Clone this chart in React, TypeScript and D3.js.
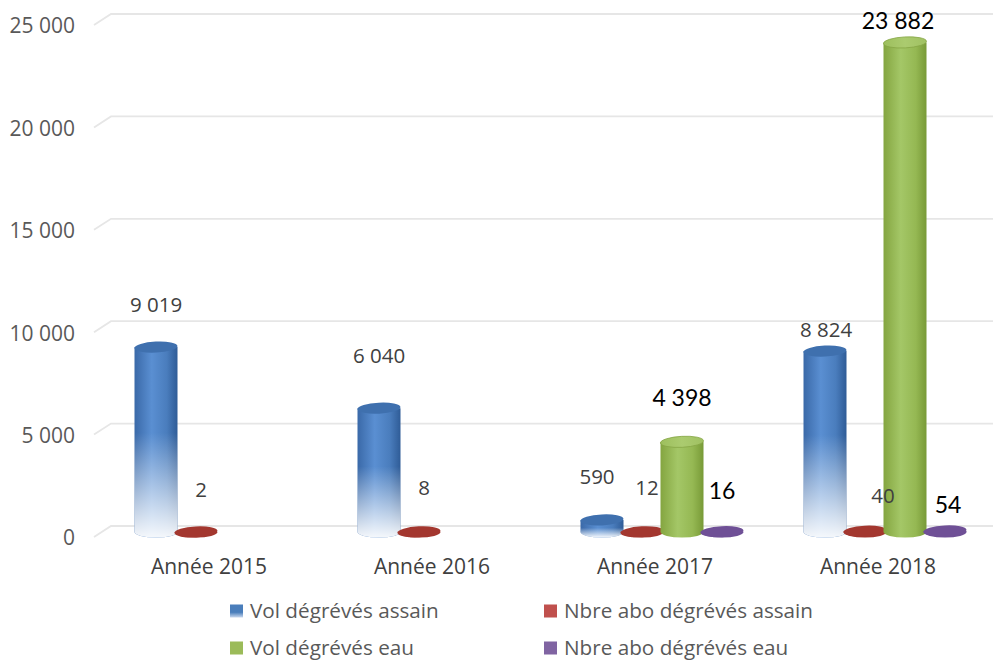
import React from "react";
import * as d3 from "d3";

const categories = ["Année 2015", "Année 2016", "Année 2017", "Année 2018"];
const seriesNames = [
  "Vol dégrévés assain",
  "Nbre abo dégrévés assain",
  "Vol dégrévés eau",
  "Nbre abo dégrévés eau",
];
const volAssain: (number | null)[] = [9019, 6040, 590, 8824];
const nbreAssain: (number | null)[] = [2, 8, 12, 40];
const volEau: (number | null)[] = [null, null, 4398, 23882];
const nbreEau: (number | null)[] = [null, null, 16, 54];
const yTicks = [0, 5000, 10000, 15000, 20000, 25000];

// label nudges (layout only): [dx, lift above top]
const labelNudge: [number, number][][] = [
  [[0, 42], [0, 52], [-5, 43], [1, 21]],
  [[5, 42], [5, 44], [5, 44], [18, 35]],
  [[0, 0], [0, 0], [0, 44], [-7, 21]],
  [[0, 0], [0, 0], [0, 41], [3, 26]],
];

const W = 995;
const H = 660;
const fmt = (v: number) => d3.format(",")(v).replace(/,/g, " ");

export default function App() {
  const seriesValues = [volAssain, nbreAssain, volEau, nbreEau];
  const x0 = d3.scaleBand<string>().domain(categories).range([97.5, 989.5]);
  const x1 = d3.scaleBand<string>().domain(seriesNames).range([-73, 87]);
  const yBack = d3.scaleLinear().domain([0, 25000]).range([526, 14]);
  const yFront = d3.scaleLinear().domain([0, 25000]).range([532, 19.5]);
  const rx = 21.5;
  const ry = 5.5;

  const fills = ["url(#gBlue)", "#a3372f", "url(#gGreen)", "#6f5096"];
  const tops = ["#3f70ae", "#a3372f", "url(#gGreenTop)", "#6f5096"];
  const labelStyle = [
    { fill: "#404040", size: 20.5, family: "'Open Sans', sans-serif" },
    { fill: "#404040", size: 20.5, family: "'Open Sans', sans-serif" },
    { fill: "#000000", size: 23, family: "Lato, sans-serif" },
    { fill: "#000000", size: 23, family: "Lato, sans-serif" },
  ];
  const legendColors = ["url(#gLegBlue)", "#c0504d", "#9bbb59", "#8064a2"];

  const marks: React.ReactNode[] = [];
  const labels: React.ReactNode[] = [];
  seriesValues.forEach((vals, si) => {
    vals.forEach((v, ci) => {
      if (v == null) return;
      const cx = (x0(categories[ci]) as number) + x0.bandwidth() / 2 + (x1(seriesNames[si]) as number) + x1.bandwidth() / 2;
      const yb = yFront(0);
      const yt = yFront(v);
      const body = `M${cx - rx},${yt} L${cx - rx},${yb} A${rx},${ry} 0 0 0 ${cx + rx},${yb} L${cx + rx},${yt} Z`;
      marks.push(
        <g key={`m${si}-${ci}`}>
          <path d={body} fill={fills[si]} />
          {si === 0 && <path d={body} fill="url(#gFade)" />}
          <ellipse
            cx={cx}
            cy={yt}
            rx={rx}
            ry={ry}
            fill={tops[si]}
            stroke={si === 2 ? "#86a545" : "none"}
            strokeWidth={0.8}
            transform={`rotate(-3 ${cx} ${yt})`}
          />
        </g>
      );
      const nd = labelNudge[si][ci];
      const st = labelStyle[si];
      labels.push(
        <text
          key={`l${si}-${ci}`}
          x={cx + nd[0]}
          y={yt - nd[1]}
          dy="0.35em"
          textAnchor="middle"
          fontSize={st.size}
          fontFamily={st.family}
          fill={st.fill}
        >
          {fmt(v)}
        </text>
      );
    });
  });

  return (
    <svg width={W} height={H} style={{ display: "block", position: "absolute", left: 0, top: 0 }}>
      <defs>
        <linearGradient id="gBlue" x1="0" x2="1" y1="0" y2="0">
          <stop offset="0" stopColor="#3a69a8" />
          <stop offset="0.4" stopColor="#5a8fd2" />
          <stop offset="0.75" stopColor="#4a7dbd" />
          <stop offset="1" stopColor="#2f5c97" />
        </linearGradient>
        <linearGradient id="gFade" x1="0" x2="0" y1="0" y2="1">
          <stop offset="0.45" stopColor="#ffffff" stopOpacity="0" />
          <stop offset="0.8" stopColor="#ffffff" stopOpacity="0.6" />
          <stop offset="1" stopColor="#ffffff" stopOpacity="0.94" />
        </linearGradient>
        <linearGradient id="gGreen" x1="0" x2="1" y1="0" y2="0">
          <stop offset="0" stopColor="#84a540" />
          <stop offset="0.4" stopColor="#a4c767" />
          <stop offset="0.75" stopColor="#95b853" />
          <stop offset="1" stopColor="#789a37" />
        </linearGradient>
        <linearGradient id="gGreenTop" x1="0" x2="1" y1="0" y2="0">
          <stop offset="0" stopColor="#9dbf5d" />
          <stop offset="0.5" stopColor="#abcb6f" />
          <stop offset="1" stopColor="#a0c162" />
        </linearGradient>
        <linearGradient id="gLegBlue" x1="0" x2="0" y1="0" y2="1">
          <stop offset="0" stopColor="#4a7ebb" />
          <stop offset="0.6" stopColor="#4a7ebb" />
          <stop offset="1" stopColor="#c9d8ee" />
        </linearGradient>
      </defs>
      <rect width={W} height={H} fill="#ffffff" />
      {yTicks.map((t) => (
        <g key={`g${t}`}>
          <polyline
            points={`94,${yBack(t) + 11} 111,${yBack(t)} 993,${yBack(t)}`}
            fill="none"
            stroke="#e6e6e6"
            strokeWidth={1.8}
          />
          <text
            x={75}
            y={yBack(t) + 12}
            dy="0.35em"
            textAnchor="end"
            fontSize={21}
            fontFamily="'Open Sans', sans-serif"
            fill="#595959"
          >
            {fmt(t)}
          </text>
        </g>
      ))}
      {marks}
      {labels}
      {categories.map((c) => (
        <text
          key={c}
          x={(x0(c) as number) + x0.bandwidth() / 2}
          y={567}
          dy="0.35em"
          textAnchor="middle"
          fontSize={21}
          fontFamily="'Open Sans', sans-serif"
          fill="#404040"
        >
          {c}
        </text>
      ))}
      {seriesNames.map((s, i) => {
        const lx = i % 2 === 0 ? 230 : 544;
        const ly = i < 2 ? 611 : 648;
        return (
          <g key={s}>
            <rect x={lx} y={ly - 6.5} width={13} height={13} fill={legendColors[i]} />
            <text
              x={lx + 20}
              y={ly}
              dy="0.35em"
              fontSize={20.7}
              fontFamily="'Open Sans', sans-serif"
              fill="#595959"
            >
              {s}
            </text>
          </g>
        );
      })}
    </svg>
  );
}
